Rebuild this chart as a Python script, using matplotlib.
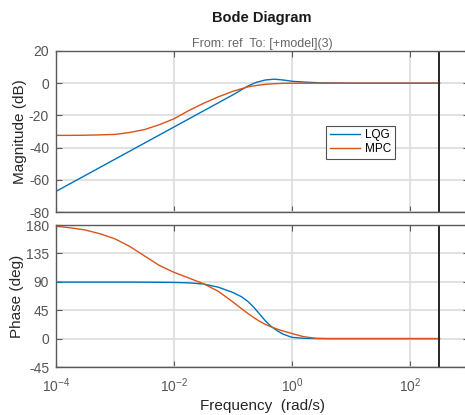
import numpy as np
import matplotlib
matplotlib.use("Agg")
import matplotlib.pyplot as plt

# frequency points (log10 of rad/s)
logw_mag = [-4, -3.75, -3.5, -3.25, -3, -2.75, -2.5, -2.25, -2, -1.75, -1.5, -1.25,
            -1, -0.75, -0.6, -0.45, -0.3, -0.15, 0, 0.25, 0.5, 1, 1.5, 2, 2.5]
lqg_mag = [-67.2, -62.2, -57.2, -52.2, -47.2, -42.2, -37.2, -32.2, -27.2, -22.2, -17.2, -12.2,
           -7.2, -1.8, 0.6, 2.0, 2.5, 2.0, 1.2, 0.6, 0.2, 0, 0, 0, 0]
mpc_mag = [-32.4, -32.4, -32.3, -32.1, -31.8, -30.6, -28.8, -25.8, -22.1, -17.0, -12.5, -8.5,
           -5.0, -2.3, -1.4, -0.7, -0.3, -0.1, 0, 0, 0, 0, 0, 0, 0]

logw_ph = [-4, -3.75, -3.5, -3.25, -3, -2.75, -2.5, -2.25, -2, -1.75, -1.5, -1.25,
           -1, -0.85, -0.75, -0.65, -0.55, -0.45, -0.35, -0.25, -0.15, 0, 0.2, 0.4, 0.6, 1, 2, 2.5]
lqg_ph = [89.5, 89.5, 89.5, 89.5, 89.5, 89.5, 89.4, 89.2, 89.0, 88.3, 86.5, 81.5,
          73, 66, 59, 50, 39, 28, 19, 12.5, 7, 2, 0.5, 0.1, 0, 0, 0, 0]
mpc_ph = [178, 175.5, 172, 166, 158, 146, 131, 116, 105, 96, 87, 75,
          58, 47, 40, 33.5, 27.5, 22.5, 18.5, 15, 12, 8, 3, 0.5, 0, 0, 0, 0]

mag_ticks = [-80, -60, -40, -20, 0, 20]
ph_ticks = [-45, 0, 45, 90, 135, 180]
x_ticks = [1e-4, 1e-2, 1e0, 1e2]
nyquist = np.pi / 0.01

plt.rcParams["font.family"] = ["Liberation Sans", "DejaVu Sans"]
plt.rcParams["mathtext.fontset"] = "custom"
plt.rcParams["mathtext.rm"] = "Liberation Sans"
plt.rcParams["mathtext.it"] = "Liberation Sans"
plt.rcParams["axes.unicode_minus"] = False

blue = "#0072BD"
orange = "#D95319"
tick_col = "#555555"
grid_col = "#dcdcdc"
spine_col = "#5a5a5a"

fig = plt.figure(figsize=(4.65, 4.15), dpi=100)
ax1 = fig.add_axes([56 / 465, 1 - 212 / 415, 413 / 465, 161 / 415])
ax2 = fig.add_axes([56 / 465, 1 - 367 / 415, 413 / 465, 142 / 415])

w_mag = 10 ** np.array(logw_mag)
w_ph = 10 ** np.array(logw_ph)

ax1.plot(w_mag, lqg_mag, color=blue, lw=1.0, label="LQG")
ax1.plot(w_mag, mpc_mag, color=orange, lw=1.0, label="MPC")
ax2.plot(w_ph, lqg_ph, color=blue, lw=1.0)
ax2.plot(w_ph, mpc_ph, color=orange, lw=1.0)

for ax, ticks in ((ax1, mag_ticks), (ax2, ph_ticks)):
    ax.set_xscale("log")
    ax.set_xlim(1e-4, 1e3)
    ax.set_ylim(ticks[0], ticks[-1])
    ax.set_yticks(ticks)
    ax.set_xticks(x_ticks)
    ax.xaxis.set_minor_locator(matplotlib.ticker.NullLocator())
    ax.grid(True, color=grid_col, lw=1.2)
    ax.set_axisbelow(True)
    ax.axvline(nyquist, color="#262626", lw=1.4)
    ax.tick_params(direction="in", top=True, right=True, length=4, width=0.8,
                   colors=spine_col, labelcolor=tick_col, labelsize=10)
    ax.tick_params(axis="y", pad=5)
    for s in ax.spines.values():
        s.set_color(spine_col)
        s.set_linewidth(1.0)

ax1.tick_params(labelbottom=False)
ax2.tick_params(axis="x", pad=7)
ax2.set_xticklabels([r"$10^{-4}$", r"$10^{-2}$", r"$10^{0}$", r"$10^{2}$"])

ax1.set_ylabel("Magnitude (dB)", fontsize=11, color="#262626")
ax2.set_ylabel("Phase (deg)", fontsize=11, color="#262626")
ax1.yaxis.set_label_coords(-0.070, 0.5)
ax2.yaxis.set_label_coords(-0.0775, 0.5)
ax2.set_xlabel("Frequency  (rad/s)", fontsize=11, color="#262626", labelpad=3)

ax1.set_title("From: ref  To: [+model](3)", fontsize=9, color="#666666", pad=3)
fig.text(262 / 465, 1 - 18 / 415, "Bode Diagram", fontsize=10.5, fontweight="bold",
         color="#1a1a1a", ha="center", va="center")

leg = ax1.legend(loc="upper left", bbox_to_anchor=(0.654, 0.535), fontsize=8.5,
                 frameon=True, fancybox=False, handlelength=2.6, borderpad=0.3,
                 labelspacing=0.15, handletextpad=0.4, borderaxespad=0)
leg.get_frame().set_edgecolor("#262626")
leg.get_frame().set_linewidth(0.8)

fig.savefig("out.png", dpi=100)
